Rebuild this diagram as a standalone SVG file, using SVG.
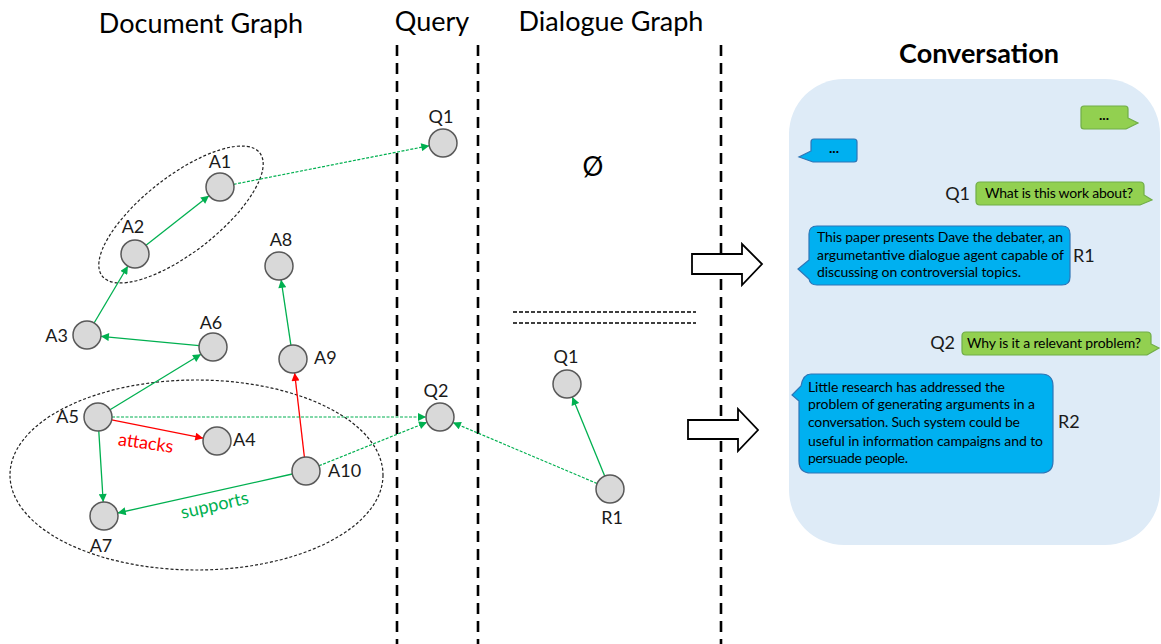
<svg xmlns="http://www.w3.org/2000/svg" width="1161" height="644" viewBox="0 0 1161 644">
  <style>
    text { font-family: Lato, "Open Sans", "Liberation Sans", sans-serif; fill: #000; }
    .title { font-size: 27px; }
    .lbl { font-size: 18px; fill: #1a1a1a; }
    .node circle { fill: #d9d9d9; stroke: #595959; stroke-width: 1.5; }
    .sep { stroke: #000; stroke-width: 2.6; stroke-dasharray: 11 7; fill: none; }
    .sup { stroke: #00b050; stroke-width: 1.3; fill: none; marker-end: url(#ag); }
    .att { stroke: #ff0000; stroke-width: 1.3; fill: none; marker-end: url(#ar); }
    .qry { stroke: #00b050; stroke-width: 1.2; fill: none; stroke-dasharray: 3 1.5; marker-end: url(#ag); }
    .grp { fill: none; stroke: #222; stroke-width: 1.2; stroke-dasharray: 3 2; }
    .bg { fill: #92d050; stroke: #70ad47; stroke-width: 1.2; }
    .bb { fill: #00b0f0; stroke: #2e75b6; stroke-width: 1.2; }
    .bt { font-size: 14px; }
    .blockarrow { fill: #fff; stroke: #000; stroke-width: 1.8; }
  </style>
  <defs>
    <marker id="ag" viewBox="0 0 10 10" refX="10" refY="5" markerWidth="9" markerHeight="8" markerUnits="userSpaceOnUse" orient="auto">
      <path d="M0,0 L10,5 L0,10 z" fill="#00b050"/>
    </marker>
    <marker id="ar" viewBox="0 0 10 10" refX="10" refY="5" markerWidth="9" markerHeight="8" markerUnits="userSpaceOnUse" orient="auto">
      <path d="M0,0 L10,5 L0,10 z" fill="#ff0000"/>
    </marker>
  </defs>

  <rect width="1161" height="644" fill="#fff"/>

  <!-- column titles -->
  <text class="title" x="201" y="33" text-anchor="middle">Document Graph</text>
  <text class="title" x="432" y="31" text-anchor="middle">Query</text>
  <text class="title" x="611" y="31" text-anchor="middle">Dialogue Graph</text>
  <text x="979" y="63" text-anchor="middle" style="font-size:27px;font-weight:bold">Conversation</text>

  <!-- column separators -->
  <g id="separators">
    <line class="sep" x1="397" y1="45" x2="397" y2="644"/>
    <line class="sep" x1="478" y1="45" x2="478" y2="644"/>
    <line class="sep" x1="721" y1="45" x2="721" y2="644"/>
  </g>

  <!-- argument groupings -->
  <ellipse class="grp" cx="181" cy="214.5" rx="100" ry="38" transform="rotate(-38 181 214.5)"/>
  <ellipse class="grp" cx="196.5" cy="475" rx="186.5" ry="95"/>

  <!-- conversation panel -->
  <rect x="789" y="79" width="371" height="466" rx="55" fill="#deebf7"/>

  <!-- connectors -->
  <g id="connectors">
    <line class="sup" x1="146" y1="245.3" x2="209" y2="195.7"/>
    <line class="sup" x1="94.1" y1="323" x2="127.9" y2="266"/>
    <line class="sup" x1="199.1" y1="345.7" x2="100.9" y2="336.3"/>
    <line class="sup" x1="110" y1="409.7" x2="201" y2="354.3"/>
    <line class="sup" x1="290.9" y1="345.2" x2="281.1" y2="279.8"/>
    <line class="att" x1="304.4" y1="457.1" x2="294.6" y2="372.9"/>
    <line class="att" x1="111.7" y1="419.8" x2="203.3" y2="438.2"/>
    <line class="sup" x1="98.8" y1="431" x2="103.2" y2="502"/>
    <line class="sup" x1="292.3" y1="474" x2="117.7" y2="513"/>
    <line class="qry" x1="233.7" y1="184.3" x2="429.3" y2="145.7"/>
    <line class="qry" x1="112" y1="417" x2="426" y2="417"/>
    <line class="qry" x1="319" y1="465.8" x2="427" y2="422.2"/>
    <line class="qry" x1="597.1" y1="483.5" x2="452.9" y2="422.5"/>
    <line class="sup" x1="604.7" y1="476" x2="572.3" y2="397"/>
    <text x="145" y="449" text-anchor="middle" transform="rotate(8 145 449)" style="font-size:18px;fill:#ff0000">attacks</text>
    <text x="216" y="511" text-anchor="middle" transform="rotate(-13 216 511)" style="font-size:18px;fill:#00b050">supports</text>
  </g>

  <!-- document graph nodes -->
  <g id="A1" class="node"><circle cx="220" cy="187" r="14"/><text class="lbl" x="220" y="168" text-anchor="middle">A1</text></g>
  <g id="A2" class="node"><circle cx="135" cy="254" r="14"/><text class="lbl" x="133" y="233" text-anchor="middle">A2</text></g>
  <g id="A3" class="node"><circle cx="87" cy="335" r="14"/><text class="lbl" x="68" y="342" text-anchor="end">A3</text></g>
  <g id="A4" class="node"><circle cx="217" cy="441" r="14"/><text class="lbl" x="233" y="446">A4</text></g>
  <g id="A5" class="node"><circle cx="98" cy="417" r="14"/><text class="lbl" x="79" y="423" text-anchor="end">A5</text></g>
  <g id="A6" class="node"><circle cx="213" cy="347" r="14"/><text class="lbl" x="211" y="329" text-anchor="middle">A6</text></g>
  <g id="A7" class="node"><circle cx="104" cy="516" r="14"/><text class="lbl" x="101" y="552" text-anchor="middle">A7</text></g>
  <g id="A8" class="node"><circle cx="279" cy="266" r="14"/><text class="lbl" x="281" y="246" text-anchor="middle">A8</text></g>
  <g id="A9" class="node"><circle cx="293" cy="359" r="14"/><text class="lbl" x="314" y="364">A9</text></g>
  <g id="A10" class="node"><circle cx="306" cy="471" r="14"/><text class="lbl" x="328" y="477">A10</text></g>

  <!-- query nodes -->
  <g id="Q1" class="node"><circle cx="443" cy="143" r="14"/><text class="lbl" x="441" y="123" text-anchor="middle">Q1</text></g>
  <g id="Q2" class="node"><circle cx="440" cy="417" r="14"/><text class="lbl" x="436" y="397" text-anchor="middle">Q2</text></g>

  <!-- dialogue graph -->
  <text x="593" y="176" text-anchor="middle" style="font-size:26px">Ø</text>
  <g id="turn-divider">
    <line x1="513" y1="312" x2="696" y2="312" stroke="#000" stroke-width="1.4" stroke-dasharray="4 2"/>
    <line x1="513" y1="323" x2="696" y2="323" stroke="#000" stroke-width="1.4" stroke-dasharray="4 2"/>
  </g>
  <g id="dQ1" class="node"><circle cx="567" cy="384" r="14"/><text class="lbl" x="566" y="363" text-anchor="middle">Q1</text></g>
  <g id="dR1" class="node"><circle cx="610" cy="489" r="14"/><text class="lbl" x="612" y="524" text-anchor="middle">R1</text></g>

  <!-- block arrows -->
  <path class="blockarrow" d="M692,254 H742 V244 L762,264 L742,285 V274 H692 Z"/>
  <path class="blockarrow" d="M688,420 H738 V409 L758,430 L738,451 V439 H688 Z"/>

  <!-- chat bubbles -->
  <g id="bubble-dots-green">
    <path class="bg" d="M1084,106 H1125 Q1128,106 1128,109 V118 L1138,123 L1126,129 H1084 Q1081,129 1081,126 V109 Q1081,106 1084,106 Z"/>
    <text x="1104" y="120" text-anchor="middle" style="font-size:14px;font-weight:bold">...</text>
  </g>
  <g id="bubble-dots-blue">
    <path class="bb" d="M814,139 H854 Q857,139 857,142 V159 Q857,162 854,162 H813 L799,157 L811,151 V142 Q811,139 814,139 Z"/>
    <text x="834" y="153" text-anchor="middle" style="font-size:14px;font-weight:bold">...</text>
  </g>
  <g id="bubble-Q1">
    <text class="lbl" x="970" y="200" text-anchor="end">Q1</text>
    <path class="bg" d="M980,182 H1140 Q1144,182 1144,186 V195 L1152,200 L1140,205 H980 Q976,205 976,201 V186 Q976,182 980,182 Z"/>
    <text class="bt" x="985" y="198" textLength="148" lengthAdjust="spacing">What is this work about?</text>
  </g>
  <g id="bubble-R1">
    <path class="bb" d="M817,226 H1062 Q1070,226 1070,234 V277 Q1070,285 1062,285 H817 Q810,285 809,279 L798,269 L809,260 V234 Q809,226 817,226 Z"/>
    <text class="bt" x="817" y="242" textLength="246" lengthAdjust="spacing">This paper presents Dave the debater, an</text>
    <text class="bt" x="817" y="260" textLength="247" lengthAdjust="spacing">argumetantive dialogue agent capable of</text>
    <text class="bt" x="817" y="277" textLength="204" lengthAdjust="spacing">discussing on controversial topics.</text>
    <text class="lbl" x="1073" y="262">R1</text>
  </g>
  <g id="bubble-Q2">
    <text class="lbl" x="955" y="349" text-anchor="end">Q2</text>
    <path class="bg" d="M966,332 H1147 Q1151,332 1151,336 V344 L1159,348 L1147,355 H966 Q962,355 962,351 V336 Q962,332 966,332 Z"/>
    <text class="bt" x="967" y="348" textLength="174" lengthAdjust="spacing">Why is it a relevant problem?</text>
  </g>
  <g id="bubble-R2">
    <path class="bb" d="M811,374 H1041 Q1053,374 1053,386 V461 Q1053,473 1041,473 H811 Q799,473 799,461 V401 L792,395 L801,386 Q803,374 811,374 Z"/>
    <text class="bt" x="808" y="392" textLength="197" lengthAdjust="spacing">Little research has addressed the</text>
    <text class="bt" x="808" y="409" textLength="227" lengthAdjust="spacing">problem  of generating arguments in a</text>
    <text class="bt" x="808" y="427" textLength="212" lengthAdjust="spacing">conversation. Such system could be</text>
    <text class="bt" x="808" y="446" textLength="235" lengthAdjust="spacing">useful in information campaigns and to</text>
    <text class="bt" x="808" y="463" textLength="100" lengthAdjust="spacing">persuade people.</text>
    <text class="lbl" x="1058" y="428">R2</text>
  </g>
</svg>
